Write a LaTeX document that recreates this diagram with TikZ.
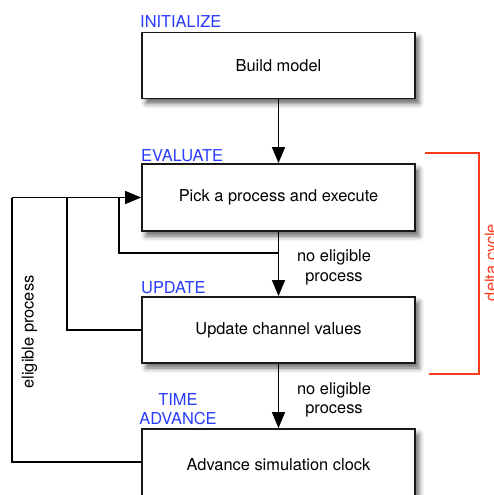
\documentclass[tikz,border=0pt]{standalone}
\usepackage{fontspec}
\setmainfont{TeX Gyre Heros}
\usetikzlibrary{arrows.meta,shadows.blur}
\definecolor{phase}{RGB}{40,60,250}
\definecolor{cyclered}{RGB}{250,60,30}
\tikzset{
  stage/.style={draw=black!90, line width=1.8pt, fill=white,
    minimum width=273pt, minimum height=66pt, inner sep=0pt,
    blur shadow={shadow xshift=4pt, shadow yshift=-5pt,
      shadow blur radius=5pt, shadow opacity=60}},
  flow/.style={line width=1.5pt, -{Triangle[length=16pt,width=13pt]}},
  link/.style={line width=1.5pt},
  phaselabel/.style={text=phase, anchor=base west, inner sep=0pt},
  phasecentre/.style={text=phase, anchor=base, inner sep=0pt},
  note/.style={anchor=base, inner sep=0pt},
  sidenote/.style={rotate=90, anchor=base, inner sep=0pt},
}
\begin{document}
\begin{tikzpicture}[x=1pt, y=-1pt, font=\fontsize{16.4}{19.7}\selectfont]
  \useasboundingbox (0,0) rectangle (493,495);

  % simulation stages
  \node[stage] (build) at (278.5,65.5) {Build model};
  \node[stage, minimum height=67pt] (pick) at (278.5,197.5) {Pick a process and execute};
  \node[stage] (update) at (278.5,330) {Update channel values};
  \node[stage, minimum height=72pt] (advance) at (278.5,465) {Advance simulation clock};

  % phase names
  \node[phaselabel] (lblinit) at (140,28) {INITIALIZE};
  \node[phaselabel] (lbleval) at (141,161) {EVALUATE};
  \node[phaselabel] (lblupd) at (141,293) {UPDATE};
  \node[phasecentre] (lbltime) at (178,405) {TIME};
  \node[phasecentre] (lbladv) at (178,424) {ADVANCE};

  % loop-back junctions
  \coordinate (split) at (278.5,253);
  \coordinate (retry) at (119,253);
  \coordinate (inner) at (67,197.5);
  \coordinate (outer) at (12,197.5);

  % main flow
  \draw[flow] (build) -- (pick);
  \draw[flow] (pick) -- (update);
  \draw[flow] (update) -- (advance);

  % feedback paths
  \draw[link] (split) -- (retry) -- (retry |- pick.west);
  \draw[link] (update.west) -| (inner);
  \draw[link] (advance.west |- 0,462) -| (outer);
  \draw[flow] (outer) -- (pick.west);

  % edge labels
  \node[note] (ne1a) at (334,261.7) {no eligible};
  \node[note] (ne1b) at (334,281.7) {process};
  \node[note] (ne2a) at (334,394) {no eligible};
  \node[note] (ne2b) at (334,413) {process};
  \node[sidenote] (elig) at (33.5,332) {eligible process};

  % delta-cycle bracket
  \coordinate (brtop) at (425,153);
  \coordinate (brbot) at (429,374);
  \draw[cyclered, line width=1.4pt] (brtop) -- (479,153) -- (479,374) -- (brbot);
  \node[sidenote, text=cyclered] (delta) at (496.5,262.5) {delta cycle};
\end{tikzpicture}
\end{document}
